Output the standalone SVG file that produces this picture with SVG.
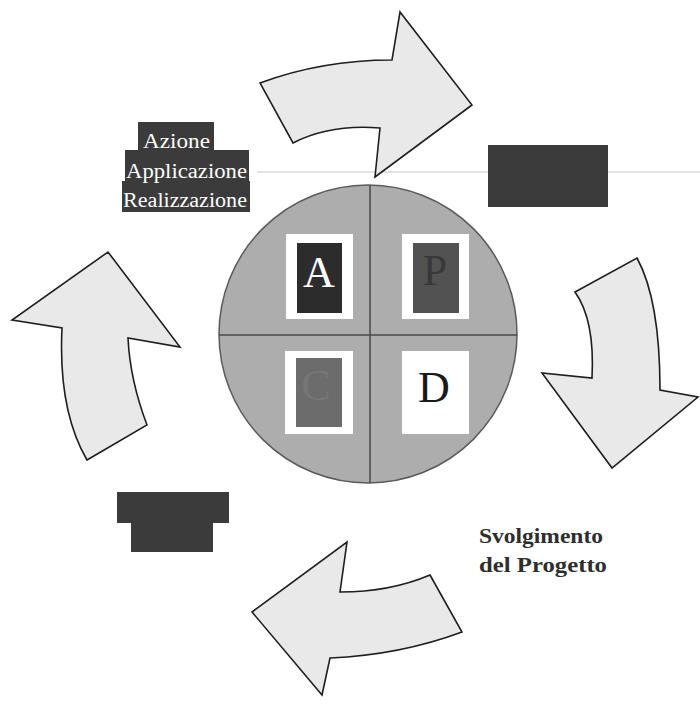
<svg xmlns="http://www.w3.org/2000/svg" width="700" height="706" viewBox="0 0 700 706">
<style>
.arrow{fill:#e9e9e9;stroke:#1e1e1e;stroke-width:1.6;stroke-linejoin:miter}
.dark{fill:#3b3b3b}
.lbl{font-family:"Liberation Serif","Times New Roman",serif;font-size:20px;fill:#ffffff}
.frame{fill:#ffffff}
.letter{font-family:"Liberation Serif","Times New Roman",serif;font-size:44px;text-anchor:middle}
.bold{font-family:"Liberation Serif","Times New Roman",serif;font-size:22px;font-weight:bold;fill:#2e2e2e}
</style>
<rect width="700" height="706" fill="#ffffff"/>
<line x1="257" y1="172" x2="700" y2="172" stroke="#e2e2e2" stroke-width="2"/>
<g id="connectors">
<path class="arrow" d="M260,83 Q322,60 392,60 L400,12 L472,105 L375,177 L380,128 Q330,124 293,143 Z"/>
<path class="arrow" d="M575,292 L637,258 Q660,300 660,390 L698,397 L612,468 L542,373 L592,378 Q595,320 575,292 Z"/>
<path class="arrow" d="M430,575 L462,632 Q400,655 330,658 L322,695 L252,612 L347,542 L340,592 Q390,592 430,575 Z"/>
<path class="arrow" d="M87,460 L147,425 Q130,380 128,338 L180,347 L108,252 L12,320 L62,328 Q58,410 87,460 Z"/>
</g>
<g id="circle">
<circle cx="368" cy="334" r="149" fill="#adadad" stroke="#5a5a5a" stroke-width="1.5"/>
<line x1="370" y1="185" x2="370" y2="483" stroke="#4a4a4a" stroke-width="1.5"/>
<line x1="219" y1="335" x2="517" y2="335" stroke="#4a4a4a" stroke-width="1.5"/>
</g>
<g id="node-A">
<rect class="frame" x="286" y="234" width="67" height="85"/>
<rect x="297" y="243" width="45" height="70" fill="#2c2c2c"/>
<text class="letter" x="319" y="287" fill="#ffffff">A</text>
</g>
<g id="node-P">
<rect class="frame" x="402" y="234" width="67" height="85"/>
<rect x="413" y="243" width="46" height="70" fill="#525252"/>
<text class="letter" x="435" y="285" fill="#383838" font-size="38">P</text>
</g>
<g id="node-C">
<rect class="frame" x="285" y="351" width="68" height="83"/>
<rect x="296" y="358" width="46" height="69" fill="#6c6c6c"/>
<text class="letter" x="316" y="400" fill="#767676" font-size="40">C</text>
</g>
<g id="node-D">
<rect class="frame" x="402" y="351" width="67" height="83" fill="#f6f6f6"/>
<text class="letter" x="434" y="402" fill="#1a1a1a">D</text>
</g>
<g id="label-azione">
<rect class="dark" x="138" y="122" width="76" height="28"/>
<rect class="dark" x="125" y="150" width="124" height="31"/>
<rect class="dark" x="122" y="181" width="128" height="31"/>
<text class="lbl" x="143" y="148" textLength="67" lengthAdjust="spacingAndGlyphs">Azione</text>
<text class="lbl" x="126" y="178" textLength="121" lengthAdjust="spacingAndGlyphs">Applicazione</text>
<text class="lbl" x="123" y="207" textLength="124" lengthAdjust="spacingAndGlyphs">Realizzazione</text>
</g>
<g id="label-plan">
<rect class="dark" x="488" y="145" width="120" height="62"/>
</g>
<g id="label-check">
<path class="dark" d="M117,492 H229 V523 H213 V552 H131 V523 H117 Z"/>
</g>
<g id="label-svolgimento">
<text class="bold" x="479" y="543" textLength="124" lengthAdjust="spacingAndGlyphs">Svolgimento</text>
<text class="bold" x="479" y="572" textLength="128" lengthAdjust="spacingAndGlyphs">del Progetto</text>
</g>
</svg>
